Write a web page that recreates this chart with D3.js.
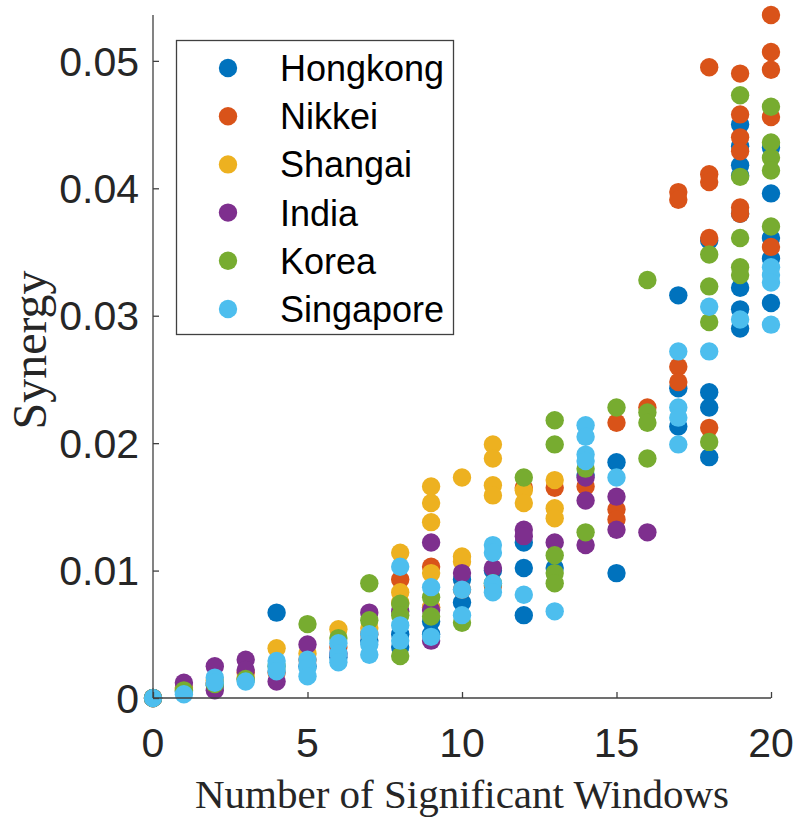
<!DOCTYPE html>
<html>
<head>
<meta charset="utf-8">
<script src="https://cdn.jsdelivr.net/npm/d3@7"></script>
<style>
  html, body { margin: 0; padding: 0; background: #fff; }
  svg { display: block; }
</style>
</head>
<body>
<script>
// Synergy against number of significant windows, one series per market.
const seriesNames = ["Hongkong", "Nikkei", "Shangai", "India", "Korea", "Singapore"];
const seriesColors = ["#0072BD", "#D95319", "#EDB120", "#7E2F8E", "#77AC30", "#4DBEEE"];

const xTicks = [0, 5, 10, 15, 20];
const yTicks = [0, 0.01, 0.02, 0.03, 0.04, 0.05];
const yTickLabels = ["0", "0.01", "0.02", "0.03", "0.04", "0.05"];

// [windows, synergy]
const hongkong = [
  [0, 0], [1, 0.0005], [2, 0.0010], [3, 0.0015], [4, 0.0067], [5, 0.0025], [6, 0.0032],
  [7, 0.0045], [8, 0.0050], [8, 0.0040], [9, 0.0060], [9, 0.0050], [10, 0.0093], [10, 0.0075],
  [11, 0.0100], [12, 0.0122], [12, 0.0102], [12, 0.0065], [13, 0.0102], [14, 0.0175],
  [15, 0.0185], [15, 0.0098], [17, 0.0316], [17, 0.0243], [17, 0.0213],
  [18, 0.0359], [18, 0.0240], [18, 0.0228], [18, 0.0189],
  [19, 0.0450], [19, 0.0433], [19, 0.0418], [19, 0.0410], [19, 0.0380], [19, 0.0322], [19, 0.0305], [19, 0.0290],
  [20, 0.0432], [20, 0.0396], [20, 0.0361], [20, 0.0345], [20, 0.0310]
];
const nikkei = [
  [0, 0], [1, 0.0008], [2, 0.0012], [3, 0.0020], [4, 0.0020], [5, 0.0030], [6, 0.0040],
  [7, 0.0050], [8, 0.0093], [9, 0.0103], [9, 0.0071], [10, 0.0085], [11, 0.0088],
  [12, 0.0165], [13, 0.0165], [14, 0.0166], [15, 0.0216], [15, 0.0148], [15, 0.0140],
  [16, 0.0228], [17, 0.0397], [17, 0.0391], [17, 0.0260], [17, 0.0248],
  [18, 0.0495], [18, 0.0411], [18, 0.0405], [18, 0.0361], [18, 0.0212],
  [19, 0.0490], [19, 0.0458], [19, 0.0440], [19, 0.0429], [19, 0.0385], [19, 0.0380],
  [20, 0.0536], [20, 0.0507], [20, 0.0493], [20, 0.0456], [20, 0.0354]
];
const shangai = [
  [0, 0], [1, 0.0007], [2, 0.0014], [3, 0.0016], [4, 0.0039], [5, 0.0035], [6, 0.0054],
  [7, 0.0055], [8, 0.0114], [8, 0.0083], [8, 0.0075],
  [9, 0.0166], [9, 0.0153], [9, 0.0138], [9, 0.0098], [9, 0.0071],
  [10, 0.0173], [10, 0.0111], [10, 0.0107],
  [11, 0.0199], [11, 0.0188], [11, 0.0167], [11, 0.0159],
  [12, 0.0163], [12, 0.0153], [13, 0.0171], [13, 0.0149], [13, 0.0141]
];
const india = [
  [0, 0], [1, 0.0012], [2, 0.0025], [2, 0.0006], [3, 0.0030], [3, 0.0022], [4, 0.0013],
  [5, 0.0042], [6, 0.0035], [7, 0.0067], [8, 0.0068], [9, 0.0122], [9, 0.0069], [9, 0.0045],
  [10, 0.0098], [11, 0.0102], [12, 0.0132], [12, 0.0127], [13, 0.0122],
  [14, 0.0173], [14, 0.0155], [14, 0.0120], [15, 0.0158], [15, 0.0132], [16, 0.0130]
];
const korea = [
  [0, 0], [1, 0.0006], [2, 0.0011], [3, 0.0015], [4, 0.0025], [5, 0.0058], [6, 0.0047],
  [7, 0.0090], [7, 0.0061], [8, 0.0074], [8, 0.0065], [8, 0.0033], [9, 0.0079], [9, 0.0064],
  [10, 0.0059], [11, 0.0090], [12, 0.0173],
  [13, 0.0218], [13, 0.0199], [13, 0.0112], [13, 0.0098], [13, 0.0090],
  [14, 0.0180], [14, 0.0130], [15, 0.0228],
  [16, 0.0328], [16, 0.0224], [16, 0.0216], [16, 0.0188],
  [18, 0.0348], [18, 0.0323], [18, 0.0295], [18, 0.0201],
  [19, 0.0473], [19, 0.0409], [19, 0.0361], [19, 0.0338], [19, 0.0332],
  [20, 0.0464], [20, 0.0436], [20, 0.0424], [20, 0.0414], [20, 0.0370]
];
const singapore = [
  [0, 0], [1, 0.0003], [2, 0.0016], [2, 0.0012], [3, 0.0013],
  [4, 0.0029], [4, 0.0025], [4, 0.0021], [5, 0.0030], [5, 0.0024], [5, 0.0017],
  [6, 0.0043], [6, 0.0035], [6, 0.0028], [7, 0.0050], [7, 0.0042], [7, 0.0034],
  [8, 0.0103], [8, 0.0057], [8, 0.0045], [9, 0.0087], [9, 0.0048],
  [10, 0.0085], [10, 0.0065], [11, 0.0120], [11, 0.0114], [11, 0.0090], [11, 0.0083],
  [12, 0.0081], [13, 0.0068],
  [14, 0.0214], [14, 0.0205], [14, 0.0191], [14, 0.0186], [15, 0.0173],
  [17, 0.0272], [17, 0.0228], [17, 0.0220], [17, 0.0199],
  [18, 0.0307], [18, 0.0272], [19, 0.0297],
  [20, 0.0338], [20, 0.0332], [20, 0.0326], [20, 0.0293]
];

const seriesData = [hongkong, nikkei, shangai, india, korea, singapore];

const W = 796, H = 817;
const axisColor = "#404040";
const textColor = "#262626";
const sansFont = "Liberation Sans, Arial, sans-serif";
const serifFont = "Liberation Serif, Times New Roman, serif";

const svg = d3.select("body").append("svg")
  .attr("width", W).attr("height", H);

const x = d3.scaleLinear().domain([0, 20]).range([153, 771]);
const y = d3.scaleLinear().domain([0, 0.0536]).range([698, 15]);

// points, drawn series by series so later series sit on top
const pts = svg.append("g");
seriesData.forEach((data, i) => {
  pts.append("g")
    .attr("fill", seriesColors[i])
    .selectAll("circle")
    .data(data)
    .join("circle")
    .attr("cx", d => x(d[0]))
    .attr("cy", d => y(d[1]))
    .attr("r", 9.2);
});

// axes: ticks point inward, only left and bottom lines
const xAxis = svg.append("g")
  .attr("transform", `translate(0,${y(0)})`)
  .call(d3.axisTop(x).tickValues(xTicks).tickSize(6).tickFormat(""));
const yAxis = svg.append("g")
  .attr("transform", `translate(${x(0)},0)`)
  .call(d3.axisRight(y).tickValues(yTicks).tickSize(6).tickFormat(""));
[xAxis, yAxis].forEach(g => {
  g.select(".domain").attr("stroke", axisColor).attr("stroke-width", 1.3);
  g.selectAll(".tick line").attr("stroke", axisColor).attr("stroke-width", 1.3);
});
xAxis.select(".domain").attr("d", `M${x(0)},0H${x(20)}`);
yAxis.select(".domain").attr("d", `M0,${y(0)}V${y(0.0536)}`);

// tick labels
svg.append("g")
  .selectAll("text")
  .data(xTicks)
  .join("text")
  .attr("x", d => x(d))
  .attr("y", 757)
  .attr("text-anchor", "middle")
  .attr("font-family", sansFont)
  .attr("font-size", 41)
  .attr("fill", textColor)
  .text(d => d);

svg.append("g")
  .selectAll("text")
  .data(yTicks)
  .join("text")
  .attr("x", 139)
  .attr("y", d => y(d))
  .attr("dy", "0.36em")
  .attr("text-anchor", "end")
  .attr("font-family", sansFont)
  .attr("font-size", 41)
  .attr("fill", textColor)
  .text((d, i) => yTickLabels[i]);

// axis titles
svg.append("text")
  .attr("x", 462)
  .attr("y", 808)
  .attr("text-anchor", "middle")
  .attr("font-family", serifFont)
  .attr("font-size", 41)
  .attr("fill", textColor)
  .text("Number of Significant Windows");

svg.append("text")
  .attr("transform", `translate(46,350) rotate(-90)`)
  .attr("text-anchor", "middle")
  .attr("font-family", serifFont)
  .attr("font-size", 48)
  .attr("fill", textColor)
  .text("Synergy");

// legend
const legend = svg.append("g");
legend.append("rect")
  .attr("x", 176.5).attr("y", 40.5)
  .attr("width", 277).attr("height", 294)
  .attr("fill", "#fff")
  .attr("stroke", axisColor)
  .attr("stroke-width", 1.3);
const rows = legend.selectAll("g.row")
  .data(seriesNames)
  .join("g")
  .attr("class", "row")
  .attr("transform", (d, i) => `translate(0,${68 + i * 48.2})`);
rows.append("circle")
  .attr("cx", 228).attr("cy", 0).attr("r", 9.2)
  .attr("fill", (d, i) => seriesColors[i]);
rows.append("text")
  .attr("x", 280).attr("y", 0).attr("dy", "0.36em")
  .attr("font-family", sansFont)
  .attr("font-size", 36)
  .attr("fill", "#000")
  .text(d => d);
</script>
</body>
</html>
